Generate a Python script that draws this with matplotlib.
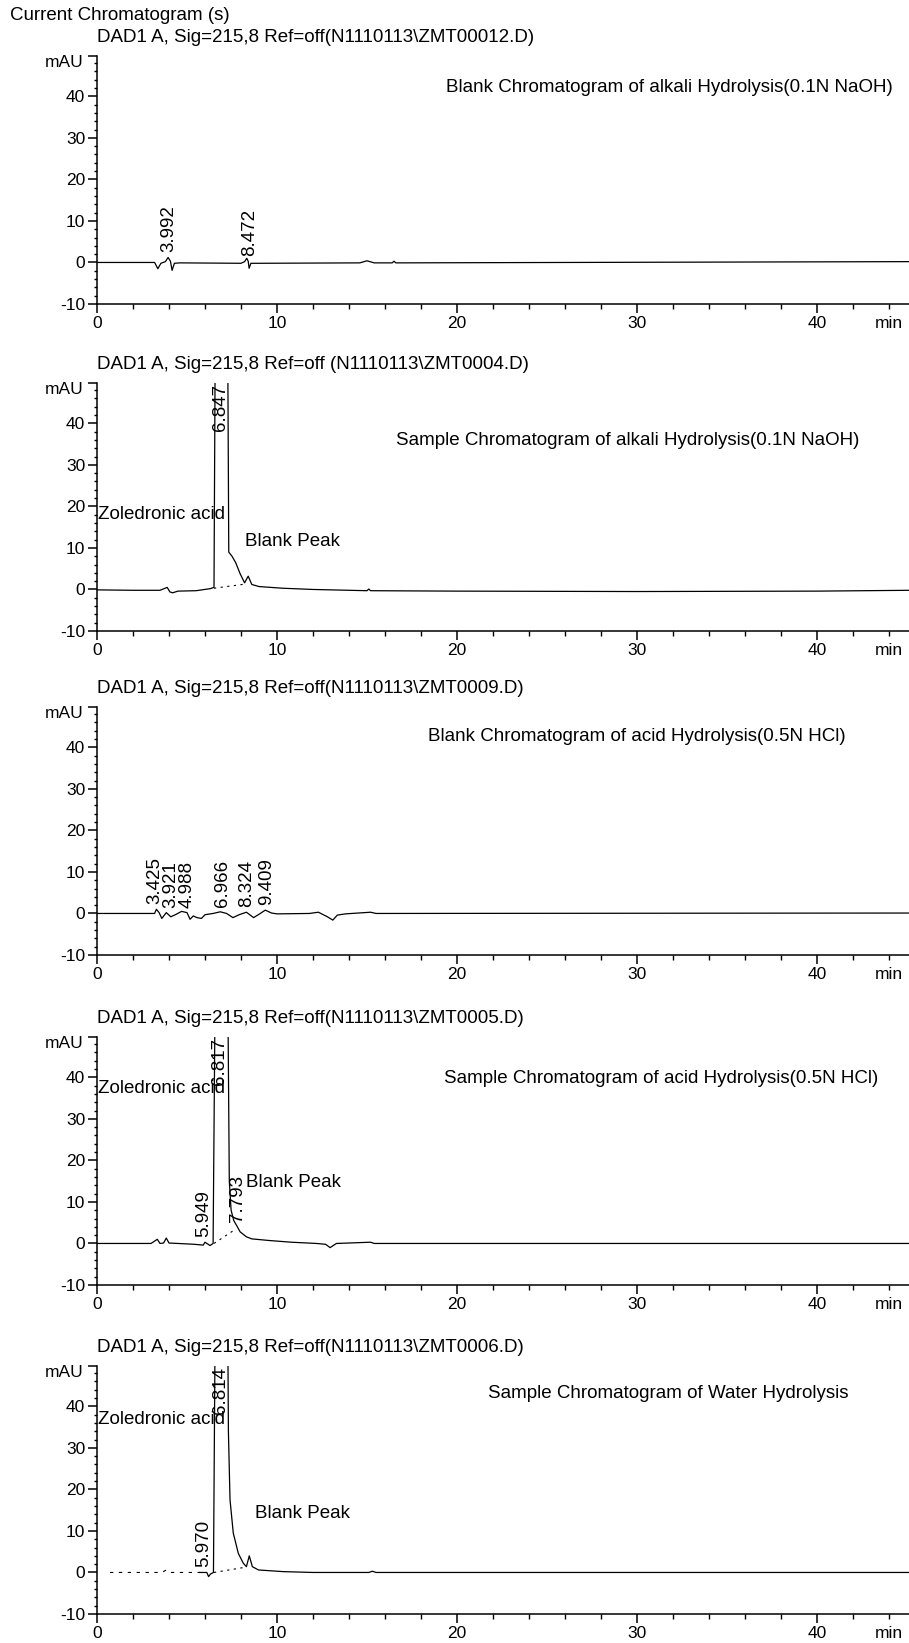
import numpy as np
import matplotlib.pyplot as plt
from matplotlib.ticker import MultipleLocator

plt.rcParams['font.family'] = ['Liberation Sans', 'DejaVu Sans']

# ---- data (time in min, signal in mAU) ----
headers = [
    r"DAD1 A, Sig=215,8 Ref=off(N1110113\ZMT00012.D)",
    r"DAD1 A, Sig=215,8 Ref=off (N1110113\ZMT0004.D)",
    r"DAD1 A, Sig=215,8 Ref=off(N1110113\ZMT0009.D)",
    r"DAD1 A, Sig=215,8 Ref=off(N1110113\ZMT0005.D)",
    r"DAD1 A, Sig=215,8 Ref=off(N1110113\ZMT0006.D)",
]
titles = [
    "Blank Chromatogram of alkali Hydrolysis(0.1N NaOH)",
    "Sample Chromatogram of alkali Hydrolysis(0.1N NaOH)",
    "Blank Chromatogram of acid Hydrolysis(0.5N HCl)",
    "Sample Chromatogram of acid Hydrolysis(0.5N HCl)",
    "Sample Chromatogram of Water Hydrolysis",
]

p1_t = [0, 3.2, 3.38, 3.55, 3.8, 3.95, 4.08, 4.17, 4.3, 4.6, 8.0, 8.2, 8.32, 8.4, 8.45, 8.55,
        9.0, 14.6, 15.0, 15.4, 16.4, 16.5, 16.6, 45.2]
p1_y = [0, 0, -1.5, -0.2, 0.2, 1.2, 0.3, -1.9, -0.2, -0.1, -0.2, 0.2, 1.0, 0.3, -1.4, -0.2,
        -0.2, -0.1, 0.4, -0.1, -0.1, 0.3, -0.1, 0.2]
p1_rt = [3.992, 8.472]

p2_t = [0, 2.0, 3.5, 3.9, 4.05, 4.2, 4.5, 5.5, 6.3, 6.5, 6.58, 7.25, 7.32, 7.5, 7.7, 7.95, 8.2,
        8.4, 8.6, 9.0, 10.3, 12.0, 15.0, 15.1, 15.2, 20, 30, 40, 45.2]
p2_y = [-0.1, -0.2, -0.2, 0.5, -0.6, -0.8, -0.4, -0.3, 0.2, 0.5, 70, 70, 9.0, 8.0, 6.5, 3.8, 1.6,
        3.2, 1.2, 0.7, 0.3, 0.0, -0.3, 0.1, -0.3, -0.4, -0.5, -0.4, -0.2]
p2_rt = [6.847]
p2_base_t = [6.5, 8.25]
p2_base_y = [0.3, 1.3]

p3_t = [0, 3.2, 3.3, 3.45, 3.6, 3.85, 4.1, 4.4, 4.7, 5.0, 5.17, 5.35, 5.55, 5.8, 6.0, 6.45, 6.85,
        7.2, 7.55, 7.9, 8.3, 8.7, 9.0, 9.35, 9.7, 10.0, 11.8, 12.3, 12.8, 13.1, 13.35, 13.8, 15.2,
        15.5, 45.2]
p3_y = [0, 0, 1.0, 0.2, -1.2, 0.2, -0.8, -0.2, 0.5, 0.2, -1.4, -0.6, -1.0, -1.2, -0.3, 0.0, 0.4,
        0.0, -1.0, -0.3, 0.3, -1.0, -0.2, 0.8, 0.1, -0.1, 0.0, 0.3, -0.8, -1.6, -0.4, -0.1, 0.3,
        0.0, 0.1]
p3_rt = [3.425, 3.921, 4.988, 6.966, 8.324, 9.409]

p4_t = [0, 3.0, 3.35, 3.5, 3.7, 3.85, 4.0, 4.5, 5.4, 5.9, 6.0, 6.28, 6.45, 6.58, 7.25, 7.35,
        7.45, 7.6, 7.8, 7.95, 8.3, 8.6, 9.6, 10.8, 12.2, 12.7, 12.95, 13.3, 15.2, 15.4, 45.2]
p4_y = [0, 0, 1.0, 0.0, 0.1, 1.3, 0.1, 0.0, -0.2, -0.4, 0.3, -0.5, 0.0, 70, 70, 15, 8.0, 5.5,
        4.0, 2.8, 1.6, 1.1, 0.7, 0.3, 0.0, -0.2, -1.0, 0.0, 0.3, 0.0, 0.0]
p4_rt = [5.949, 6.817, 7.793]
p4_base_t = [6.5, 7.65]
p4_base_y = [0.0, 3.3]

p5_t = [0.72, 3.6, 3.85, 4.1, 5.7, 6.1, 6.2, 6.3, 6.47, 6.58, 7.25, 7.3, 7.39, 7.57, 7.85, 8.13,
        8.3, 8.46, 8.63, 8.97, 10.35, 12.0, 15.1, 15.3, 15.5, 45.2]
p5_y = [0, 0, 0.6, 0, 0, 0, -1.0, -0.4, 0.0, 70, 70, 34, 17.5, 9.5, 4.6, 2.2, 1.4, 4.0, 1.4,
        0.6, 0.2, 0.0, 0.0, 0.3, 0.0, 0.0]
p5_rt = [5.970, 6.814]
p5_base_t = [6.5, 8.3]
p5_base_y = [0.0, 1.3]

panels = [
    dict(t=p1_t, y=p1_y, rt=p1_rt, base=None),
    dict(t=p2_t, y=p2_y, rt=p2_rt, base=(p2_base_t, p2_base_y)),
    dict(t=p3_t, y=p3_y, rt=p3_rt, base=None),
    dict(t=p4_t, y=p4_y, rt=p4_rt, base=(p4_base_t, p4_base_y)),
    dict(t=p5_t, y=p5_y, rt=p5_rt, base=(p5_base_t, p5_base_y)),
]

# ---- layout (pixels of the 909x1643 figure) ----
W, H = 909, 1643
x0_px = 97
bottoms_px = [304, 631, 955, 1285, 1614]
height_px = 248
YMIN, YMAX = -10, 49.7
XMAX = (W - x0_px) / 18.0

# title placement: (left edge in min, height in mAU)
title_pos = [(19.4, 42.0), (16.6, 35.8), (18.4, 42.5), (19.3, 39.7), (21.7, 43.0)]
zol_y = [None, 18.0, None, 37.3, 36.8]
blank_pos = [None, (8.2, 11.5), None, (8.3, 14.7), (8.8, 14.2)]
faint_until = [None, None, None, None, 5.7]

FS = 13.5
TFS = 12.5

fig = plt.figure(figsize=(W / 100, H / 100), dpi=100)
fig.text(10 / W, 1 - 15 / H, "Current Chromatogram (s)", fontsize=FS, ha='left', va='center')


def spread(pos, gap):
    pos = list(pos)
    for _ in range(50):
        for i in range(len(pos) - 1):
            d = pos[i + 1] - pos[i]
            if d < gap:
                s = (gap - d) / 2
                pos[i] -= s
                pos[i + 1] += s
    return pos


for i, p in enumerate(panels):
    b = bottoms_px[i]
    ax = fig.add_axes([x0_px / W, 1 - b / H, (W - x0_px) / W, height_px / H])
    ax.set_xlim(0, XMAX)
    ax.set_ylim(YMIN, YMAX)
    for s in ['top', 'right']:
        ax.spines[s].set_visible(False)
    for s in ['left', 'bottom']:
        ax.spines[s].set_linewidth(1.1)

    t = np.array(p['t'], dtype=float)
    y = np.array(p['y'], dtype=float)
    if faint_until[i] is not None:
        k = int(np.searchsorted(t, faint_until[i]))
        ax.plot(t[:k + 1], y[:k + 1], color='black', lw=0.8, ls=(0, (3, 5)))
        ax.plot(t[k:], y[k:], color='black', lw=0.9)
    else:
        ax.plot(t, y, color='black', lw=0.9)
    if p['base'] is not None:
        ax.plot(p['base'][0], p['base'][1], color='black', lw=0.8, ls=(0, (2, 4)))

    # retention time labels
    xs = spread(p['rt'], 0.9)
    for rt, xl in zip(p['rt'], xs):
        near = y[np.abs(t - rt) < 0.15]
        top = near.max() if near.size else np.interp(rt, t, y)
        if top > YMAX - 10:
            ax.text(xl, YMAX - 0.2, f"{rt:.3f}", rotation=90, ha='center', va='top', fontsize=FS)
        else:
            ax.text(xl, top + 1.2, f"{rt:.3f}", rotation=90, ha='center', va='bottom', fontsize=FS)

    # axis ticks
    ax.set_xticks([0, 10, 20, 30, 40])
    ax.set_xticklabels(['0', '10', '20', '30', '40'])
    ax.xaxis.set_minor_locator(MultipleLocator(2))
    ax.set_yticks([-10, 0, 10, 20, 30, 40, YMAX])
    ax.set_yticklabels(['-10', '0', '10', '20', '30', '40', ''])
    ax.yaxis.set_minor_locator(MultipleLocator(2))
    ax.tick_params(which='major', length=6.5, width=1.1, pad=2, labelsize=TFS, direction='out')
    ax.tick_params(axis='x', which='minor', length=3.5, width=1.0, direction='out')
    ax.tick_params(axis='y', which='minor', length=2.2, width=1.0, direction='out')

    ax.annotate("mAU", xy=(0, 48.2), xycoords=('axes fraction', 'data'), xytext=(-10, 0),
                textcoords='offset points', ha='right', va='center', fontsize=TFS)
    ax.annotate("min", xy=(43.2, 0), xycoords=('data', 'axes fraction'), xytext=(0, -8.5),
                textcoords='offset points', ha='left', va='top', fontsize=TFS)
    ax.annotate(headers[i], xy=(0, 1), xycoords='axes fraction', xytext=(0, 13),
                textcoords='offset points', ha='left', va='center', fontsize=FS)

    tx, ty = title_pos[i]
    ax.text(tx, ty, titles[i], ha='left', va='center', fontsize=FS)
    if zol_y[i] is not None:
        ax.text(0.05, zol_y[i], "Zoledronic acid", ha='left', va='center', fontsize=FS)
    if blank_pos[i] is not None:
        ax.text(blank_pos[i][0], blank_pos[i][1], "Blank Peak", ha='left', va='center', fontsize=FS)

fig.savefig('out.png', dpi=100)
